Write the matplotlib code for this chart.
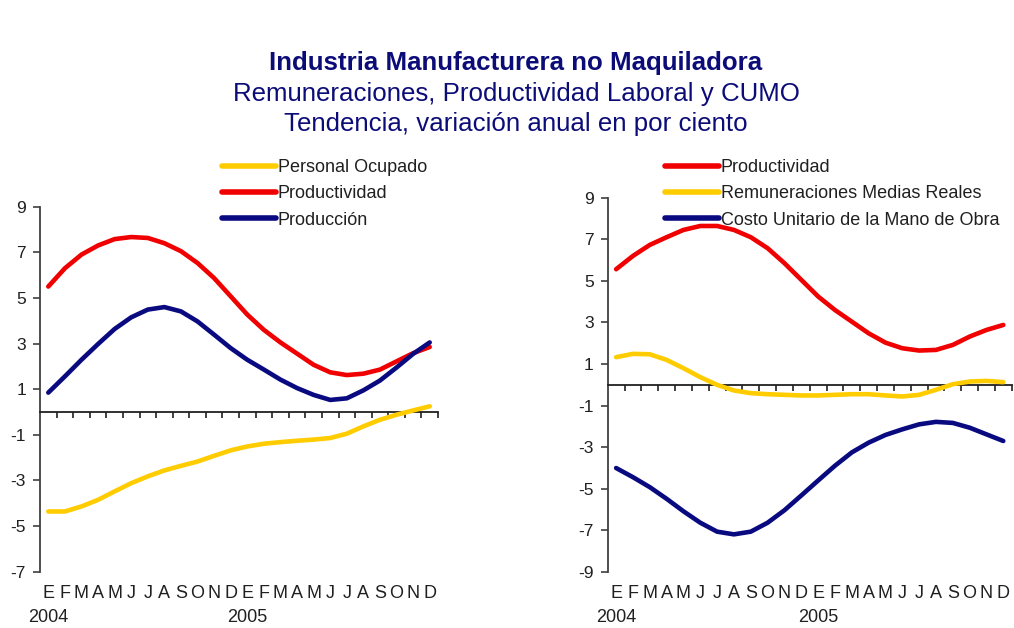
import matplotlib
matplotlib.use("Agg")
import matplotlib.pyplot as plt
from matplotlib.lines import Line2D

plt.rcParams['font.family'] = ['Liberation Sans', 'DejaVu Sans']

months = ["E", "F", "M", "A", "M", "J", "J", "A", "S", "O", "N", "D"] * 2
years = ["2004", "2005"]

# Left panel
personal_ocupado = [-4.36, -4.36, -4.14, -3.85, -3.48, -3.12, -2.82, -2.56, -2.36, -2.17, -1.92, -1.68,
                    -1.51, -1.39, -1.32, -1.26, -1.21, -1.14, -0.95, -0.63, -0.34, -0.12, 0.07, 0.25]
productividad_l = [5.5, 6.3, 6.9, 7.3, 7.58, 7.67, 7.63, 7.4, 7.05, 6.53, 5.87, 5.07,
                   4.27, 3.6, 3.05, 2.56, 2.07, 1.74, 1.62, 1.68, 1.86, 2.22, 2.58, 2.85]
produccion = [0.85, 1.56, 2.29, 2.98, 3.64, 4.15, 4.49, 4.6, 4.41, 3.97, 3.39, 2.8,
              2.29, 1.86, 1.42, 1.05, 0.75, 0.53, 0.6, 0.95, 1.38, 1.95, 2.55, 3.05]

# Right panel
productividad_r = [5.56, 6.2, 6.73, 7.1, 7.45, 7.64, 7.64, 7.45, 7.1, 6.57, 5.85, 5.05,
                   4.25, 3.6, 3.04, 2.48, 2.03, 1.76, 1.65, 1.68, 1.92, 2.32, 2.64, 2.88]
remuneraciones = [1.33, 1.49, 1.47, 1.2, 0.8, 0.37, 0.0, -0.27, -0.4, -0.45, -0.48, -0.51,
                  -0.51, -0.48, -0.45, -0.45, -0.51, -0.56, -0.48, -0.24, 0.03, 0.16, 0.19, 0.13]
cumo = [-4.0, -4.44, -4.92, -5.48, -6.08, -6.63, -7.06, -7.19, -7.06, -6.63, -6.03, -5.32,
        -4.6, -3.89, -3.25, -2.78, -2.41, -2.14, -1.9, -1.78, -1.83, -2.06, -2.38, -2.7]

left_ticks = [-7, -5, -3, -1, 1, 3, 5, 7, 9]
right_ticks = [-9, -7, -5, -3, -1, 1, 3, 5, 7, 9]

YEL = '#FFCC00'
RED = '#F00000'
NAVY = '#0A0A80'
TITLE_C = '#0C0C78'

W, H = 1014, 628
fig = plt.figure(figsize=(W / 100, H / 100), dpi=100)


def px_axes(x0, x1, ytop, ybot):
    return fig.add_axes([x0 / W, 1 - ybot / H, (x1 - x0) / W, (ybot - ytop) / H])


def style(ax, ylim, ticks, month_y, year_y):
    ax.set_xlim(0, 24)
    ax.set_ylim(*ylim)
    ax.set_facecolor('none')
    for s in ['top', 'right']:
        ax.spines[s].set_visible(False)
    ax.spines['left'].set_color('#404040')
    ax.spines['left'].set_linewidth(1.3)
    ax.spines['bottom'].set_position(('data', 0))
    ax.spines['bottom'].set_color('#202020')
    ax.spines['bottom'].set_linewidth(1.3)
    ax.set_yticks(ticks)
    ax.set_yticklabels([str(t) for t in ticks])
    ax.tick_params(axis='y', direction='out', length=5, width=1.2, color='#404040',
                   labelsize=12.5, labelcolor='#202020', pad=5)
    ax.set_xticks(range(1, 25))
    ax.set_xticklabels([])
    ax.tick_params(axis='x', direction='out', length=4, width=1.2, color='#202020')
    tr = ax.get_xaxis_transform()
    for i, m in enumerate(months):
        ax.text(i + 0.5, month_y, m, transform=tr, ha='center', va='center',
                fontsize=13, color='#202020')
    for j, yr in enumerate(years):
        ax.text(12 * j + 0.5, year_y, yr, transform=tr, ha='center', va='center',
                fontsize=13, color='#202020')


xs = [i + 0.5 for i in range(24)]

# Left axes
axL = px_axes(40, 438, 206.7, 571.7)
style(axL, (-7, 9), left_ticks, (571.7 - 593) / 365, (571.7 - 617) / 365)
axL.plot(xs, personal_ocupado, color=YEL, lw=3.3, solid_capstyle='round', zorder=3)
axL.plot(xs, productividad_l, color=RED, lw=3.3, solid_capstyle='round', zorder=4)
axL.plot(xs, produccion, color=NAVY, lw=3.3, solid_capstyle='round', zorder=5)

# Right axes
axR = px_axes(607.7, 1011.7, 197.7, 572)
style(axR, (-9, 9), right_ticks, (572 - 593) / 374.3, (572 - 617) / 374.3)
axR.plot(xs, remuneraciones, color=YEL, lw=3.3, solid_capstyle='round', zorder=3)
axR.plot(xs, productividad_r, color=RED, lw=3.3, solid_capstyle='round', zorder=4)
axR.plot(xs, cumo, color=NAVY, lw=3.3, solid_capstyle='round', zorder=5)


def legend(ax, items, x, ytop):
    handles = [Line2D([], [], color=c, lw=4, solid_capstyle='round') for c, _ in items]
    labels = [l for _, l in items]
    leg = ax.legend(handles, labels, loc='upper left', bbox_to_anchor=(x / W, 1 - ytop / H),
                    bbox_transform=fig.transFigure, frameon=False, fontsize=13,
                    handlelength=3.0, handletextpad=0.1, labelspacing=0.52,
                    borderpad=0, borderaxespad=0)
    for t in leg.get_texts():
        t.set_color('#202020')


legend(axL, [(YEL, 'Personal Ocupado'), (RED, 'Productividad'), (NAVY, 'Producción')], 222, 159)
legend(axR, [(RED, 'Productividad'), (YEL, 'Remuneraciones Medias Reales'),
             (NAVY, 'Costo Unitario de la Mano de Obra')], 665, 159)

fig.text(516 / W, 1 - 63 / H, 'Industria Manufacturera no Maquiladora', ha='center', va='center',
         fontsize=18.6, fontweight='bold', color=TITLE_C)
fig.text(516 / W, 1 - 94 / H, 'Remuneraciones, Productividad Laboral y CUMO', ha='center', va='center',
         fontsize=18.6, color=TITLE_C)
fig.text(516 / W, 1 - 124 / H, 'Tendencia, variación anual en por ciento', ha='center', va='center',
         fontsize=18.6, color=TITLE_C)

fig.savefig('out.png', dpi=100, facecolor='white')
